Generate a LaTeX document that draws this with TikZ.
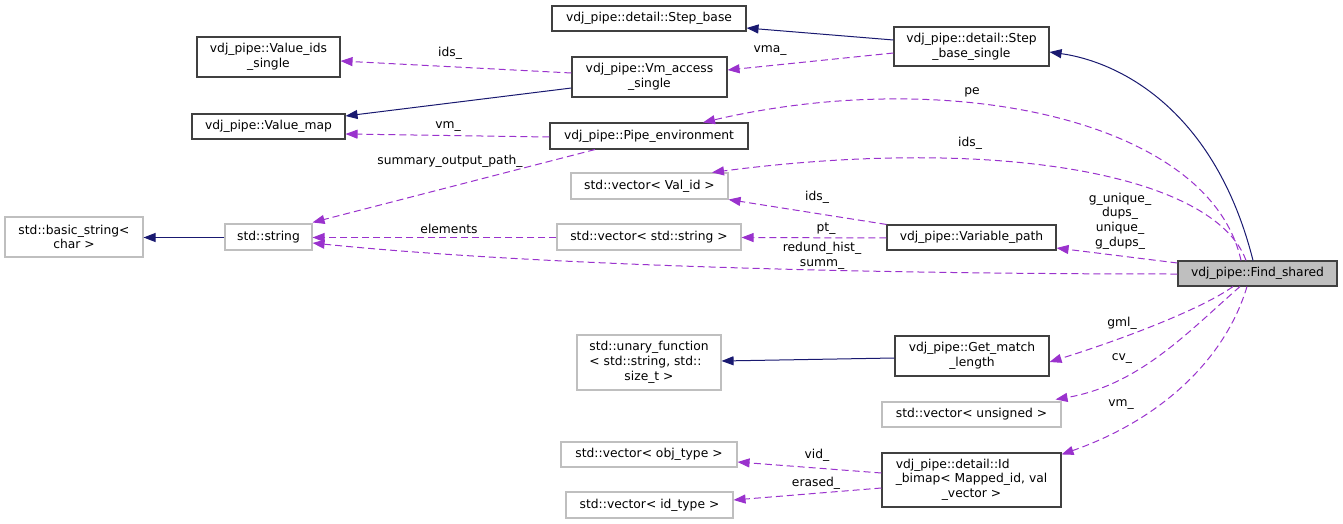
\documentclass[tikz,border=0pt]{standalone}
\usepackage{fontspec}
\setmainfont{DejaVu Sans}
\usetikzlibrary{arrows.meta}
\definecolor{inhcol}{HTML}{191970}
\definecolor{usecol}{HTML}{9A32CD}
\definecolor{grayb}{HTML}{BFBFBF}
\definecolor{blackb}{HTML}{404040}
\begin{document}
\begin{tikzpicture}[x=1pt,y=-1pt,
  font=\fontsize{12.3}{14.7}\selectfont,
  cls/.style={draw=blackb,line width=1.1pt,fill=white,inner sep=0pt,align=center,minimum width=#1},
  ext/.style={draw=grayb,line width=1.1pt,fill=white,inner sep=0pt,align=center,minimum width=#1},
  inh/.style={draw=inhcol,line width=1pt,-{Triangle[length=12pt,width=9pt]}},
  use/.style={draw=usecol,line width=1pt,dash pattern=on 7pt off 4pt,-{Triangle[length=12pt,width=9pt]}},
  lbl/.style={inner sep=0pt,align=center}]
\useasboundingbox (0,0) rectangle (1343,524);
% nodes
\node[cls=194pt,minimum height=25pt] (stepbase) at (649,18.5) {vdj\_pipe::detail::Step\_base};
\node[cls=155pt,minimum height=39pt] (stepsingle) at (971.5,46.5) {vdj\_pipe::detail::Step\\\_base\_single};
\node[cls=143pt,minimum height=40pt] (valids) at (268.5,57) {vdj\_pipe::Value\_ids\\\_single};
\node[cls=155pt,minimum height=40pt] (vmaccess) at (649.5,77) {vdj\_pipe::Vm\_access\\\_single};
\node[cls=153pt,minimum height=25pt] (valuemap) at (268.5,126.5) {vdj\_pipe::Value\_map};
\node[cls=198pt,minimum height=26pt] (pipeenv) at (649,136) {vdj\_pipe::Pipe\_environment};
\node[ext=157pt,minimum height=26pt] (vecvalid) at (649.5,186) {std::vector< Val\_id >};
\node[ext=138pt,minimum height=40pt] (basicstr) at (74,237) {std::basic\_string<\\char >};
\node[ext=87pt,minimum height=26pt] (string) at (268.5,237) {std::string};
\node[ext=184pt,minimum height=26pt] (vecstr) at (649,237) {std::vector< std::string >};
\node[cls=169pt,minimum height=25pt] (varpath) at (971.5,237.5) {vdj\_pipe::Variable\_path};
\node[cls=159pt,minimum height=25pt,fill=grayb] (findshared) at (1257.5,273.5) {vdj\_pipe::Find\_shared};
\node[ext=144pt,minimum height=55pt] (unary) at (649,362.5) {\begin{tabular}{@{}l@{}}std::unary\_function\\< std::string, std::\\\multicolumn{1}{@{}c@{}}{size\_t >}\end{tabular}};
\node[cls=154pt,minimum height=40pt] (getmatch) at (972,356) {vdj\_pipe::Get\_match\\\_length};
\node[ext=179pt,minimum height=25pt] (vecuns) at (971.5,414.5) {std::vector< unsigned >};
\node[ext=176pt,minimum height=25pt] (vecobj) at (649,454.5) {std::vector< obj\_type >};
\node[ext=167pt,minimum height=26pt] (vecid) at (649.5,505) {std::vector< id\_type >};
\node[cls=179pt,minimum height=54pt] (bimap) at (971.5,480) {\begin{tabular}{@{}l@{}}vdj\_pipe::detail::Id\\\_bimap< Mapped\_id, val\\\multicolumn{1}{@{}c@{}}{\_vector >}\end{tabular}};
% inheritance
\draw[inh] ([yshift=6.5pt]stepsingle.west) -- ([yshift=-9.5pt]stepbase.east);
\draw[inh] ([yshift=-11pt]vmaccess.west) -- ([yshift=10.5pt]valuemap.east);
\draw[inh] ([yshift=-0.5pt]string.west) -- ([yshift=-0.5pt]basicstr.east);
\draw[inh] ([yshift=-2pt]getmatch.west) -- ([yshift=1.5pt]unary.east);
\draw[inh] ([xshift=-4.5pt]findshared.north) .. controls (1215,110) and (1120,62) .. ([yshift=-5.5pt]stepsingle.east);
% usage
\draw[use] ([yshift=4pt]vmaccess.west) -- ([yshift=-4pt]valids.east);
\draw[use] ([yshift=-6.5pt]stepsingle.west) -- ([yshift=7pt]vmaccess.east);
\draw[use] ([yshift=-1pt]pipeenv.west) -- ([yshift=-7.5pt]valuemap.east);
\draw[use] ([xshift=-54pt]pipeenv.south) -- ([yshift=1pt]string.north east);
\draw[use] ([yshift=-0.5pt]vecstr.west) -- ([yshift=-0.5pt]string.east);
\draw[use] ([yshift=-0.5pt]findshared.west) .. controls (800,274) and (500,262) .. ([yshift=-6pt]string.east);
\draw[use] (varpath.north west) -- (vecvalid.south east);
\draw[use] ([yshift=-0.5pt]varpath.west) -- ([yshift=-0.5pt]vecstr.east);
\draw[use] ([yshift=10.5pt]findshared.west) -- ([yshift=-10.5pt]varpath.east);
\draw[use] ([xshift=-16.5pt]findshared.north) .. controls (1210,120) and (950,65) .. ([xshift=54pt]pipeenv.north);
\draw[use] ([xshift=-11.5pt]findshared.north) .. controls (1215,175) and (1000,135) .. ([xshift=62.5pt]vecvalid.north);
\draw[use] ([xshift=-24.5pt]findshared.south) .. controls (1200,310) and (1120,340) .. ([yshift=-6pt]getmatch.east);
\draw[use] ([xshift=-17.5pt]findshared.south) .. controls (1190,330) and (1140,385) .. ([xshift=-6pt,yshift=2pt]vecuns.north east);
\draw[use] ([xshift=-10.5pt]findshared.south) .. controls (1225,360) and (1160,420) .. ([yshift=-2pt]bimap.north east);
\draw[use] ([yshift=7pt]bimap.west) -- ([yshift=-7.5pt]vecobj.east);
\draw[use] ([yshift=-8pt]bimap.west) -- ([yshift=5pt]vecid.east);
% labels
\node[lbl] (l1) at (450,53) {ids\_};
\node[lbl] (l2) at (770,51) {vma\_};
\node[lbl] (l3) at (448,127) {vm\_};
\node[lbl] (l4) at (450,161) {summary\_output\_path\_};
\node[lbl] (l5) at (449,229) {elements};
\node[lbl] (l6) at (822,256) {redund\_hist\_\\summ\_};
\node[lbl] (l7) at (817,197) {ids\_};
\node[lbl] (l8) at (826,229) {pt\_};
\node[lbl] (l9) at (1120,221) {g\_unique\_\\dups\_\\unique\_\\g\_dups\_};
\node[lbl] (l10) at (972,92) {pe};
\node[lbl] (l11) at (970,143) {ids\_};
\node[lbl] (l12) at (1122,323) {gml\_};
\node[lbl] (l13) at (1122,359) {cv\_};
\node[lbl] (l14) at (1121,405) {vm\_};
\node[lbl] (l15) at (817,455) {vid\_};
\node[lbl] (l16) at (816,483) {erased\_};
\end{tikzpicture}
\end{document}
